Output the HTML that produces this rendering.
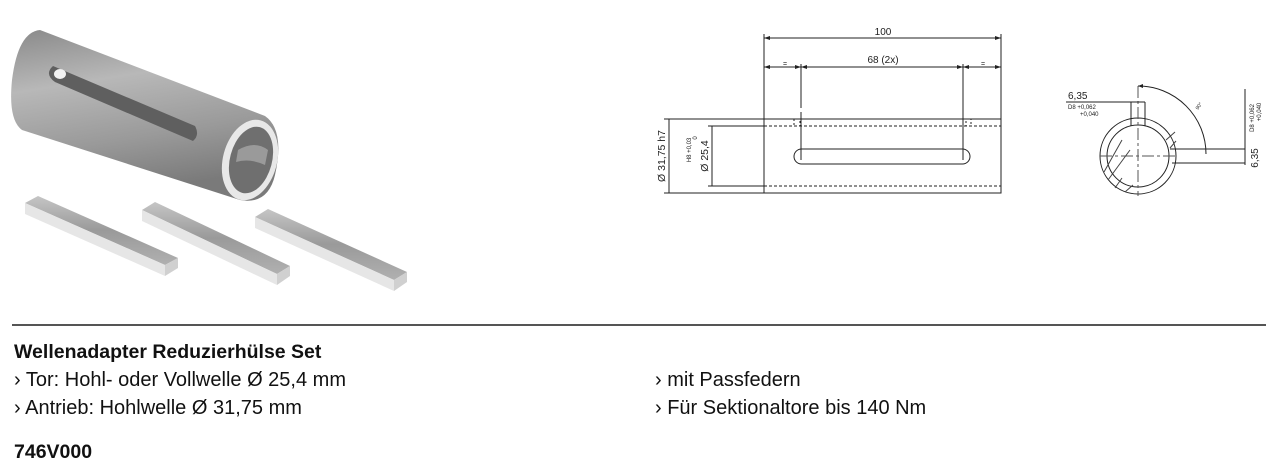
<!DOCTYPE html>
<html><head><meta charset="utf-8"><style>
html,body{margin:0;padding:0;background:#fff;}
body{width:1281px;height:466px;overflow:hidden;position:relative;font-family:"Liberation Sans",sans-serif;color:#111;}
.t{position:absolute;white-space:nowrap;font-size:20px;}
.b{font-weight:bold;}
</style></head><body>
<svg width="1281" height="466" style="position:absolute;left:0;top:0" xmlns="http://www.w3.org/2000/svg">
<defs>
<linearGradient id="cyl" x1="0" y1="0" x2="0.25" y2="1">
<stop offset="0" stop-color="#8a8a8a"/><stop offset="0.35" stop-color="#b8b8b8"/><stop offset="0.7" stop-color="#9a9a9a"/><stop offset="1" stop-color="#7a7a7a"/></linearGradient>
<linearGradient id="key" x1="0" y1="0" x2="0" y2="1">
<stop offset="0" stop-color="#c5c5c5"/><stop offset="0.5" stop-color="#9a9a9a"/><stop offset="1" stop-color="#b0b0b0"/></linearGradient>
</defs>
<path d="M40,30 L265,116 Q285,130 275,175 Q268,205 240,200 L22,130 Q8,120 12,80 Q18,32 40,30 Z" fill="url(#cyl)"/>
<ellipse cx="250" cy="160" rx="27" ry="41" transform="rotate(15 250 160)" fill="#e8e8e8"/>
<ellipse cx="251" cy="160" rx="21" ry="34" transform="rotate(15 251 160)" fill="#6f6f6f"/>
<path d="M238,150 Q255,140 268,150 L265,165 Q250,158 236,162 Z" fill="#9a9a9a"/>
<path d="M53,66 L195,126 Q200,135 193,141 L55,82 Q44,74 53,66 Z" fill="#5f5f5f"/>
<ellipse cx="60" cy="74" rx="6" ry="5" fill="#f2f2f2"/>
<path d="M25,203 L38,196 L178,258 L165,265 Z" fill="url(#key)"/>
<path d="M25,203 L165,265 L165,276 L25,214 Z" fill="#e6e6e6"/>
<path d="M165,265 L178,258 L178,268 L165,276 Z" fill="#d0d0d0"/>
<path d="M142,210 L155,202 L290,266 L277,274 Z" fill="url(#key)"/>
<path d="M142,210 L277,274 L277,285 L142,221 Z" fill="#e6e6e6"/>
<path d="M277,274 L290,266 L290,276 L277,285 Z" fill="#d0d0d0"/>
<path d="M255,217 L268,209 L407,272 L394,280 Z" fill="url(#key)"/>
<path d="M255,217 L394,280 L394,291 L255,228 Z" fill="#e6e6e6"/>
<path d="M394,280 L407,272 L407,282 L394,291 Z" fill="#d0d0d0"/>
<g stroke="#222" stroke-width="1" fill="none">
<line x1="764" y1="34" x2="764" y2="193"/><line x1="1001" y1="34" x2="1001" y2="193"/>
<line x1="764" y1="38" x2="1001" y2="38"/>
<line x1="764" y1="67" x2="1001" y2="67"/>
<line x1="801" y1="64" x2="801" y2="108"/><line x1="801" y1="112" x2="801" y2="160"/>
<line x1="963" y1="64" x2="963" y2="160"/>
<rect x="764" y="119" width="237" height="74"/>
<line x1="764" y1="126" x2="1001" y2="126" stroke-dasharray="3,2"/>
<line x1="764" y1="186" x2="1001" y2="186" stroke-dasharray="3,2"/>
<rect x="794" y="119" width="6" height="7" stroke-dasharray="2,2"/>
<rect x="966" y="119" width="5" height="7" stroke-dasharray="2,2"/>
<rect x="794" y="149" width="176" height="15" rx="7.5"/>
<line x1="669" y1="119" x2="669" y2="193"/><line x1="664" y1="119" x2="764" y2="119"/><line x1="664" y1="193" x2="764" y2="193"/>
<line x1="712" y1="126" x2="712" y2="186"/><line x1="708" y1="126" x2="764" y2="126"/><line x1="708" y1="186" x2="764" y2="186"/>
</g>
<g fill="#222">
<path d="M764,38 l6,-2 v4z M1001,38 l-6,-2 v4z M764,67 l6,-2 v4z M1001,67 l-6,-2 v4z M801,67 l-6,-2 v4z M801,67 l6,-2 v4z M963,67 l-6,-2 v4z M963,67 l6,-2 v4z"/>
</g>
<g font-family="Liberation Sans,sans-serif" fill="#222">
<text x="883" y="35" font-size="10" text-anchor="middle">100</text>
<text x="883" y="63" font-size="10" text-anchor="middle">68 (2x)</text>
<text x="785" y="66" font-size="7" text-anchor="middle">=</text>
<text x="983" y="66" font-size="7" text-anchor="middle">=</text>
<text transform="translate(665,156) rotate(-90)" font-size="10.5" text-anchor="middle">Ø 31,75 h7</text>
<text transform="translate(708,156) rotate(-90)" font-size="10.5" text-anchor="middle">Ø 25,4</text>
<text transform="translate(691,150) rotate(-90)" font-size="6" text-anchor="middle">H8 +0,03</text>
<text transform="translate(697,138) rotate(-90)" font-size="6" text-anchor="middle">0</text>
</g>
<g stroke="#222" stroke-width="1" fill="none">
<circle cx="1138" cy="156" r="38"/>
<circle cx="1138" cy="156" r="31"/>
<line x1="1138" y1="86" x2="1138" y2="196" stroke="#555" stroke-dasharray="12,3,3,3"/>
<line x1="1100" y1="156" x2="1176" y2="156" stroke="#555" stroke-dasharray="12,3,3,3"/>
<line x1="1131" y1="102" x2="1131" y2="126"/><line x1="1145" y1="102" x2="1145" y2="126"/>
<line x1="1066" y1="102" x2="1145" y2="102"/>
<path d="M1138,86 A68,68 0 0 1 1206,154"/>
<line x1="1170" y1="149" x2="1245" y2="149"/>
<line x1="1172" y1="163" x2="1245" y2="163"/>
<line x1="1245" y1="89" x2="1245" y2="165"/>
<path d="M1104,172 L1122,140 M1108,180 L1130,150 M1115,188 L1122,178 M1125,192 L1133,185 M1166,140 L1175,132 M1170,148 L1176,141" stroke="#444"/>
</g>
<g fill="#222" font-family="Liberation Sans,sans-serif">
<path d="M1138,86 l5,-2 v4z"/>
<text x="1068" y="99" font-size="10">6,35</text>
<text x="1068" y="109" font-size="6">D8 +0,062</text>
<text x="1080" y="116" font-size="6">+0,040</text>
<text transform="translate(1198,110) rotate(-55)" font-size="5">90°</text>
<text transform="translate(1258,158) rotate(-90)" font-size="10" text-anchor="middle">6,35</text>
<text transform="translate(1254,118) rotate(-90)" font-size="6" text-anchor="middle">D8 +0,062</text>
<text transform="translate(1261,112) rotate(-90)" font-size="6" text-anchor="middle">+0,040</text>
</g>
<line x1="12" y1="325" x2="1266" y2="325" stroke="#555" stroke-width="2"/>
</svg>
<div class="t b" style="left:14px;top:341px;font-size:19.5px;">Wellenadapter Reduzierhülse Set</div>
<div class="t" style="left:14px;top:369px;">› Tor: Hohl- oder Vollwelle Ø 25,4 mm</div>
<div class="t" style="left:14px;top:397px;">› Antrieb: Hohlwelle Ø 31,75 mm</div>
<div class="t" style="left:655px;top:369px;">› mit Passfedern</div>
<div class="t" style="left:655px;top:397px;">› Für Sektionaltore bis 140 Nm</div>
<div class="t b" style="left:14px;top:441px;font-size:19.5px;">746V000</div>
</body></html>
